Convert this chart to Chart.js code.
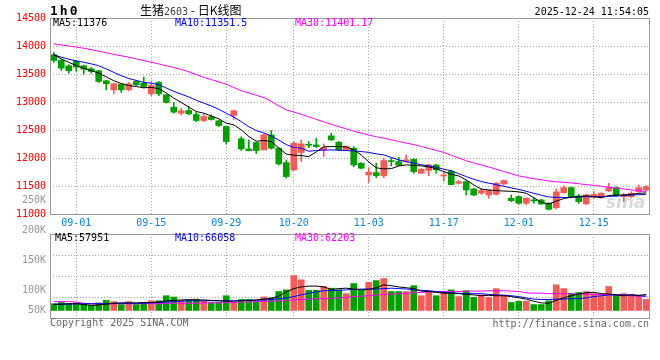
<!DOCTYPE html>
<html>
<head>
<meta charset="utf-8">
<script src="https://cdn.jsdelivr.net/npm/chart.js@4.4.1/dist/chart.umd.min.js"></script>
<style>
  body { margin: 0; background: #fff; }
  #wrap { position: relative; width: 660px; height: 360px; font-family: "DejaVu Sans Mono", monospace; font-size: 10px; overflow: hidden; }
  canvas { position: absolute; left: 0; }
  .t { position: absolute; white-space: nowrap; line-height: 12px; z-index: 2; }
</style>
</head>
<body>
<div id="wrap">
  <canvas id="chart-kline" width="660" height="232" style="top:0"></canvas>
  <canvas id="chart-volume" width="660" height="108" style="top:232px"></canvas>

  <div class="t" style="left:50px;top:4px;font-weight:bold;font-size:13px;letter-spacing:2px;line-height:14px">1h0</div>
  <div class="t" style="left:140px;top:3px;font-size:12px;line-height:14px;font-family:'Noto Sans CJK SC',sans-serif">生猪<span style="font-family:'DejaVu Sans Mono';font-size:10px;color:#444">2603</span> - 日K线图</div>
  <div class="t" style="right:11px;top:6px">2025-12-24 11:54:05</div>

  <div class="t" style="left:53px;top:17px;color:#000">MA5:11376</div>
  <div class="t" style="left:175px;top:17px;color:#00f">MA10:11351.5</div>
  <div class="t" style="left:295px;top:17px;color:#f0f">MA30:11401.17</div>

  <div class="t" style="right:614px;top:194px;color:#999">250K</div>
  <div class="t" style="left:606px;top:193px;font:italic bold 17px 'DejaVu Sans',sans-serif;color:rgba(150,150,150,0.35);line-height:18px">sina</div>

  <div class="t" style="right:614px;top:224px;color:#999">200K</div>
  <div class="t" style="right:614px;top:254px;color:#999">150K</div>
  <div class="t" style="right:614px;top:284px;color:#999">100K</div>
  <div class="t" style="right:614px;top:304px;color:#999">50K</div>

  <div class="t" style="left:55px;top:232px;color:#000">MA5:57951</div>
  <div class="t" style="left:175px;top:232px;color:#00f">MA10:66058</div>
  <div class="t" style="left:295px;top:232px;color:#f0f">MA30:62203</div>

  <div class="t" style="left:50px;top:317px;color:#666">Copyright 2025 SINA.COM</div>
  <div class="t" style="right:11px;top:318px;color:#666">http://finance.sina.com.cn</div>
</div>
<script>
const dates = ["08-27","08-28","08-29",
  "09-01","09-02","09-03","09-04","09-05","09-08","09-09","09-10","09-11","09-12",
  "09-15","09-16","09-17","09-18","09-19","09-22","09-23","09-24","09-25","09-26","09-29","09-30",
  "10-09","10-10","10-13","10-14","10-15","10-16","10-17","10-20","10-21","10-22","10-23","10-24",
  "10-27","10-28","10-29","10-30","10-31",
  "11-03","11-04","11-05","11-06","11-07","11-10","11-11","11-12","11-13","11-14",
  "11-17","11-18","11-19","11-20","11-21","11-24","11-25","11-26","11-27","11-28",
  "12-01","12-02","12-03","12-04","12-05","12-08","12-09","12-10","12-11","12-12",
  "12-15","12-16","12-17","12-18","12-19","12-22","12-23","12-24"];
const tickDates = ["09-01","09-15","09-29","10-20","11-03","11-17","12-01","12-15"];

const opens = [13844,13742,13647,13725,13647,13593,13558,13379,13218,13319,
  13218,13367,13337,13146,13349,13129,12908,12801,12849,12777,
  12670,12735,12664,12562,12759,12342,12163,12276,12145,12413,
  12175,11918,11787,12097,12246,12234,12145,12395,12282,12145,
  12174,11906,11697,11739,11685,11954,11936,11936,11977,11727,
  11775,11876,11679,11760,11549,11578,11447,11370,11340,11352,
  11537,11280,11310,11191,11251,11251,11191,11113,11381,11471,
  11322,11179,11298,11298,11411,11471,11310,11310,11399,11429];
const highs = [13885,13754,13665,13742,13659,13617,13564,13391,13337,13331,
  13349,13385,13444,13349,13367,13135,12992,12890,12920,12813,
  12783,12771,12676,12574,12849,12378,12324,12288,12431,12490,
  12186,11966,12294,12324,12294,12353,12252,12443,12294,12216,
  12204,11918,11828,11906,11995,11995,12013,12055,11990,11811,
  11888,11888,11757,11787,11600,11596,11459,11459,11430,11561,
  11608,11340,11322,11292,11292,11263,11203,11450,11506,11483,
  11351,11351,11399,11381,11548,11483,11369,11399,11518,11506];
const lows = [13707,13564,13516,13546,13498,13516,13349,13218,13146,13170,
  13200,13289,13248,13117,13111,12980,12801,12771,12771,12646,
  12646,12676,12562,12252,12690,12133,12127,12080,12145,12157,
  11876,11644,11775,11936,12186,12186,12025,12312,12133,12133,
  11846,11805,11566,11650,11650,11858,11864,11918,11727,11727,
  11685,11727,11590,11518,11537,11340,11328,11352,11280,11340,
  11519,11221,11173,11161,11191,11173,11072,11090,11369,11298,
  11190,11173,11280,11280,11399,11310,11220,11298,11387,11417];
const closes = [13742,13605,13558,13623,13587,13546,13367,13325,13325,13218,
  13325,13307,13278,13295,13146,12992,12819,12843,12789,12670,
  12741,12688,12580,12294,12843,12163,12133,12133,12413,12175,
  11894,11668,12264,12252,12228,12204,12186,12324,12145,12204,
  11876,11817,11745,11685,11954,11936,11870,11966,11757,11799,
  11876,11787,11697,11525,11578,11429,11340,11418,11418,11549,
  11596,11239,11191,11280,11233,11179,11084,11395,11471,11310,
  11220,11340,11351,11369,11471,11328,11340,11369,11471,11488];

const ma5 = [13844,13770,13710,13650,13600,13560,13516,13450,13380,13330,
  13295,13275,13255,13260,13240,13160,13070,12992,12910,12831,
  12800,12750,12700,12622,12592,12503,12384,12300,12312,12294,
  12180,12070,12050,12043,12025,12110,12200,12204,12204,12200,
  12144,12055,11930,11825,11805,11810,11858,11876,11870,11858,
  11840,11810,11757,11710,11680,11608,11520,11445,11430,11418,
  11410,11405,11395,11370,11290,11210,11180,11230,11275,11300,
  11310,11325,11310,11292,11330,11340,11340,11350,11369,11376];
const ma10 = [13844,13800,13765,13735,13710,13680,13647,13590,13530,13470,
  13420,13385,13350,13337,13310,13250,13190,13140,13090,13030,
  12980,12930,12870,12800,12730,12650,12560,12490,12450,12390,
  12320,12240,12190,12175,12120,12133,12140,12145,12140,12133,
  12125,12115,12100,12075,12055,12010,11966,11935,11906,11880,
  11860,11835,11800,11770,11720,11668,11620,11580,11550,11525,
  11495,11465,11440,11405,11370,11335,11305,11295,11295,11298,
  11305,11310,11310,11310,11315,11320,11330,11340,11345,11352];
const ma30 = [14040,14020,14000,13980,13960,13935,13905,13880,13850,13825,
  13800,13770,13740,13710,13680,13645,13615,13580,13540,13490,
  13440,13400,13360,13320,13260,13200,13160,13120,13080,13010,
  12930,12860,12820,12780,12735,12690,12645,12600,12560,12520,
  12480,12443,12410,12380,12353,12325,12295,12265,12240,12205,
  12170,12135,12100,12050,12000,11950,11910,11875,11840,11800,
  11760,11720,11680,11655,11630,11610,11590,11575,11565,11555,
  11540,11525,11510,11495,11480,11462,11447,11430,11415,11401];

const volumes = [34000,37000,34000,36000,34000,31000,36000,42000,39000,32000,
  39000,32000,36000,41000,41000,53000,50000,42000,42000,45000,
  40000,37000,37000,53000,37000,44000,44000,39000,50000,48000,
  63000,67000,101000,91000,66000,66000,75000,71000,67000,58000,
  82000,66000,85000,89000,94000,63000,63000,63000,77000,53000,
  63000,53000,63000,67000,51000,65000,49000,55000,49000,70000,
  55000,37000,40000,40000,32000,32000,41000,79000,70000,59000,
  61000,63000,58000,53000,75000,55000,58000,55000,53000,44000];
const volMa5 = [32000,33000,34000,34000,32000,30000,31000,33000,35000,36000,
  36000,36000,37000,37000,38000,41000,42000,43000,44000,43000,
  43000,42000,41000,40000,40000,41000,42000,43000,45000,47000,
  52000,62000,70000,74000,76000,76000,74000,68000,70000,71000,
  69000,67000,68000,72000,79000,77000,74000,72000,70000,64000,
  63000,61000,59000,59000,58000,56000,55000,53000,54000,53000,
  53000,51000,48000,45000,40000,36000,35000,42000,48000,53000,
  57000,60000,61000,58000,57000,55000,53000,55000,54000,56000];
const volMa10 = [33000,33000,33000,34000,34000,34000,34000,34000,35000,35000,
  35000,35000,35000,36000,37000,38000,39000,40000,41000,41000,
  41000,41000,41000,41000,41000,42000,42000,42000,43000,44000,
  46000,48000,51000,55000,59000,62000,65000,65000,66000,67000,
  68000,69000,69000,69000,70000,71000,70000,69000,67000,66000,
  65000,63000,61000,60000,59000,58000,58000,58000,56000,55000,
  54000,53000,51000,48000,45000,44000,44000,45000,45000,46000,
  46000,48000,51000,53000,55000,55000,55000,55000,53000,52000];
const volMa30 = [39000,39000,39000,38000,35000,34000,34000,34000,34000,34000,
  34000,34000,34000,34000,34000,35000,35000,35000,35000,35000,
  36000,36000,36000,37000,37000,38000,38000,39000,40000,40000,
  41000,42000,43000,44000,45000,46000,46000,47000,48000,49000,
  51000,52000,53000,55000,56000,57000,58000,59000,60000,61000,
  62000,63000,63000,63000,63000,64000,64000,64000,65000,65000,
  65000,64000,63000,60000,59000,59000,58000,58000,58000,57000,
  57000,57000,56000,56000,55000,55000,54000,53000,52000,52000];

const UP = "#f85a5a";
const DOWN = "#00a000";
const GRID = "#aaa";
const candleColors = closes.map((c, i) => c >= opens[i] ? UP : DOWN);

const frame = {
  id: "frame",
  afterDraw(chart) {
    const { ctx, chartArea: a } = chart;
    ctx.save();
    ctx.strokeStyle = "#999";
    ctx.lineWidth = 1;
    ctx.strokeRect(Math.round(a.left) + 0.5, Math.round(a.top) + 0.5,
      Math.round(a.right - a.left) - 1, Math.round(a.bottom - a.top));
    ctx.restore();
  }
};

Chart.defaults.font.family = "'DejaVu Sans Mono', monospace";
Chart.defaults.font.size = 10;

function xScale(showLabels, height) {
  return {
    type: "category",
    offset: true,
    grid: {
      offset: false,
      drawTicks: false,
      color: ctx => tickDates.includes(dates[ctx.index]) ? GRID : "rgba(0,0,0,0)"
    },
    border: { display: false, dash: [1, 2] },
    ticks: {
      display: showLabels,
      autoSkip: false,
      maxRotation: 0,
      color: "#0a88d8",
      padding: 3,
      callback: (v, i) => tickDates.includes(dates[i]) ? dates[i] : ""
    },
    afterFit: s => { s.height = height; }
  };
}

function line(data, color) {
  return { type: "line", data, borderColor: color, borderWidth: 1, pointRadius: 0, tension: 0, order: 0 };
}

const common = {
  responsive: false,
  animation: false,
  events: [],
  plugins: { legend: { display: false }, tooltip: { enabled: false } }
};

new Chart(document.getElementById("chart-kline").getContext("2d"), {
  type: "bar",
  data: {
    labels: dates,
    datasets: [
      line(ma5, "#000"),
      line(ma10, "#00f"),
      line(ma30, "#f0f"),
      { data: opens.map((o, i) => [o, closes[i]]), backgroundColor: candleColors,
        barThickness: 6, minBarLength: 1, grouped: false, order: 1 },
      { data: lows.map((l, i) => [l, highs[i]]), backgroundColor: candleColors,
        barThickness: 1, grouped: false, order: 2 }
    ]
  },
  options: {
    ...common,
    layout: { padding: { top: 18, right: 10, left: 0, bottom: 0 } },
    scales: {
      x: xScale(true, 18),
      y: {
        min: 11000, max: 14500,
        ticks: { stepSize: 500, color: "#f00", padding: 4, callback: v => String(v) },
        grid: { color: GRID, drawTicks: false },
        border: { display: false, dash: [1, 2] },
        afterFit: s => { s.width = 50; }
      }
    }
  },
  plugins: [frame]
});

new Chart(document.getElementById("chart-volume").getContext("2d"), {
  type: "bar",
  data: {
    labels: dates,
    datasets: [
      line(volMa5, "#000"),
      line(volMa10, "#00f"),
      line(volMa30, "#f0f"),
      { data: volumes, base: 18000, backgroundColor: candleColors,
        barThickness: 6, grouped: false, order: 1 }
    ]
  },
  options: {
    ...common,
    layout: { padding: { top: 2, right: 10, left: 0, bottom: 0 } },
    scales: {
      x: xScale(false, 22),
      y: {
        min: 0, max: 200000,
        ticks: { stepSize: 50000, display: false },
        grid: { color: GRID, drawTicks: false },
        border: { display: false, dash: [1, 2] },
        afterFit: s => { s.width = 50; }
      }
    }
  },
  plugins: [frame]
});
</script>
</body>
</html>
